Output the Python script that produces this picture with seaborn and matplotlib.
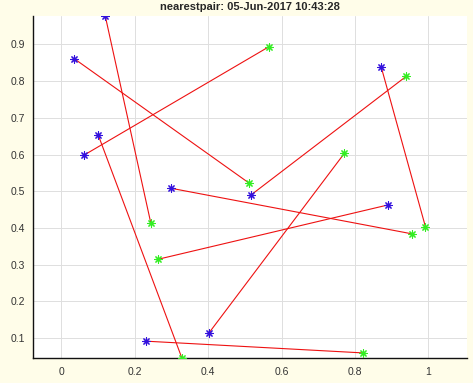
import numpy as np
import pandas as pd
import seaborn as sns
import matplotlib.pyplot as plt

# blue points (first of each pair) and green points (nearest partner)
blue_x = [0.120, 0.035, 0.063, 0.101, 0.300, 0.517, 0.872, 0.891, 0.402, 0.231]
blue_y = [0.976, 0.861, 0.599, 0.652, 0.508, 0.490, 0.837, 0.463, 0.114, 0.092]
green_x = [0.244, 0.512, 0.565, 0.329, 0.956, 0.940, 0.992, 0.264, 0.771, 0.823]
green_y = [0.413, 0.522, 0.893, 0.045, 0.384, 0.813, 0.404, 0.315, 0.603, 0.060]

x_ticks = [0, 0.2, 0.4, 0.6, 0.8, 1]
x_labels = ["0", "0.2", "0.4", "0.6", "0.8", "1"]
y_ticks = [0.1, 0.2, 0.3, 0.4, 0.5, 0.6, 0.7, 0.8, 0.9]

n = len(blue_x)
seg = pd.DataFrame({
    "pair": list(range(n)) * 2,
    "order": [0] * n + [1] * n,
    "x": blue_x + green_x,
    "y": blue_y + green_y,
}).sort_values(["pair", "order"])

sns.set_style("white")
plt.rcParams["font.family"] = ["Liberation Sans", "DejaVu Sans"]

fig = plt.figure(figsize=(4.73, 3.83), dpi=100)
fig.patch.set_facecolor("#fffde9")
ax = fig.add_axes([0.0704, 0.0645, 0.9163, 0.8937])
ax.set_facecolor("white")

sns.lineplot(data=seg, x="x", y="y", units="pair", estimator=None, sort=False,
             color="#ee1111", linewidth=0.8, ax=ax, zorder=2)

star = (8, 2, 0)
sns.scatterplot(x=blue_x, y=blue_y, marker=star, s=28, color="#3311dd",
                linewidth=0.8, ax=ax, zorder=3)
sns.scatterplot(x=green_x, y=green_y, marker=star, s=28, color="#33ee22",
                linewidth=0.8, ax=ax, zorder=3)

ax.set_xlim(-0.0763, 1.1046)
ax.set_ylim(0.0454, 0.977)
ax.set_xticks(x_ticks)
ax.set_xticklabels(x_labels)
ax.set_yticks(y_ticks)
ax.set_xlabel("")
ax.set_ylabel("")
ax.grid(True, color="#dedede", linewidth=0.7)
ax.set_axisbelow(True)
ax.tick_params(direction="in", length=4, width=0.8, colors="#222222",
               labelsize=7.5, pad=6, labelcolor="#333333")
for s in ["top", "right"]:
    ax.spines[s].set_visible(False)
for s in ["left", "bottom"]:
    ax.spines[s].set_color("#111111")
    ax.spines[s].set_linewidth(1.0)

ax.set_title("nearestpair: 05-Jun-2017 10:43:28", fontsize=8, fontweight="bold",
             pad=4)

fig.savefig("out.png", dpi=100, facecolor=fig.get_facecolor())
